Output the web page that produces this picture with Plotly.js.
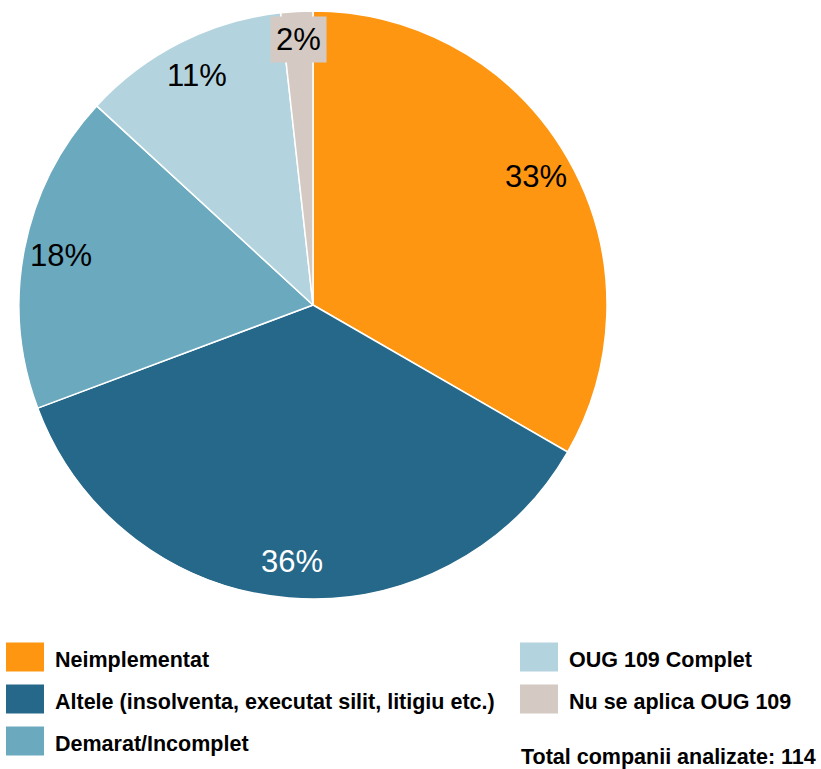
<!DOCTYPE html>
<html>
<head>
<meta charset="utf-8">
<script src="https://cdn.plot.ly/plotly-3.0.1.min.js"></script>
<style>html,body{margin:0;padding:0;background:#fff;}#chart{width:821px;height:769px;}</style>
</head>
<body>
<div id="chart"></div>
<script>
const labels = ["Neimplementat", "Altele (insolventa, executat silit, litigiu etc.)", "Demarat/Incomplet", "OUG 109 Complet", "Nu se aplica OUG 109"];
const counts = [38, 41, 20, 13, 2];
const colors = ["#FE9612", "#26688A", "#6BA9BF", "#B3D4DF", "#D5CAC3"];
const labelColors = ["#000000", "#ffffff", "#000000", "#000000", "#000000"];
const totalText = "Total companii analizate: ";

const W = 821, H = 769;
const cx = 313, cy = 305, R = 294;
const total = counts.reduce((a, b) => a + b, 0);

const trace = {
  type: "pie",
  labels: labels,
  values: counts,
  marker: {colors: colors, line: {color: "#ffffff", width: 1.5}},
  sort: false,
  direction: "clockwise",
  rotation: 0,
  textinfo: "none",
  hoverinfo: "label+percent",
  showlegend: false,
  domain: {x: [(cx - R) / W, (cx + R) / W], y: [(H - cy - R) / H, (H - cy + R) / H]}
};

const annotations = [];
const shapes = [];
let cum = 0;
counts.forEach((v, i) => {
  const mid = (cum + v / 2) / total * 2 * Math.PI;
  cum += v;
  const r = R * (i === 4 ? 0.9 : 0.875);
  const px = cx + r * Math.sin(mid);
  const py = cy - r * Math.cos(mid);
  const a = {
    x: px / W, y: (H - py) / H, xref: "paper", yref: "paper",
    text: Math.round(v / total * 100) + "%",
    showarrow: false, xanchor: "center", yanchor: "middle",
    font: {family: "Liberation Sans, Arial, sans-serif", size: 31, color: labelColors[i]}
  };
  if (i === 4) { a.bgcolor = colors[i]; a.borderpad = 5; a.y = (H - 39) / H; }
  annotations.push(a);
});

// custom two-column legend
const legCols = [[0, 1, 2], [3, 4]];
const colX = [6, 520];
const rowY = [657, 699, 741];
legCols.forEach((col, c) => {
  col.forEach((idx, r) => {
    const yc = rowY[r];
    shapes.push({type: "rect", xref: "paper", yref: "paper",
      x0: colX[c] / W, x1: (colX[c] + 38) / W,
      y0: (H - (yc - 14.5)) / H, y1: (H - (yc + 14.5)) / H,
      fillcolor: colors[idx], line: {width: 0}});
    annotations.push({x: (colX[c] + 47) / W, y: (H - yc - 3) / H, xref: "paper", yref: "paper",
      text: "<b>" + labels[idx] + "</b>", showarrow: false, xanchor: "left", yanchor: "middle",
      font: {family: "Liberation Sans, Arial, sans-serif", size: 21.5, color: "#000"}});
  });
});
annotations.push({x: 818 / W, y: (H - 757) / H, xref: "paper", yref: "paper",
  text: "<b>" + totalText + total + "</b>", showarrow: false, xanchor: "right", yanchor: "middle",
  font: {family: "Liberation Sans, Arial, sans-serif", size: 21.5, color: "#000"}});

const layout = {
  width: W, height: H,
  margin: {l: 0, r: 0, t: 0, b: 0},
  paper_bgcolor: "#ffffff",
  showlegend: false,
  annotations: annotations,
  shapes: shapes
};
Plotly.newPlot("chart", [trace], layout, {displayModeBar: false, staticPlot: true});
</script>
</body>
</html>
